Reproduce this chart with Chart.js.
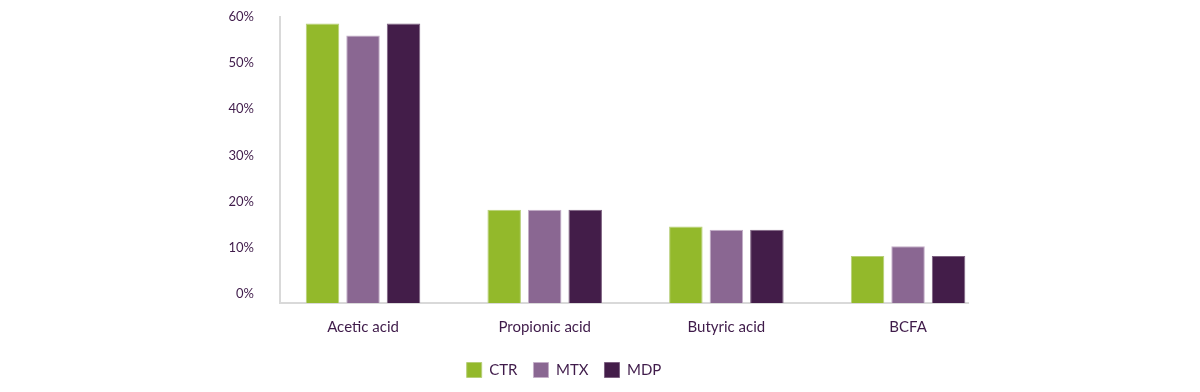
<!DOCTYPE html>
<html>
<head>
<meta charset="utf-8">
<script src="https://cdn.jsdelivr.net/npm/chart.js@4.4.1/dist/chart.umd.min.js"></script>
<style>
  html, body { margin: 0; padding: 0; background: #ffffff; }
  #wrap { width: 1200px; height: 392px; position: relative; }
</style>
</head>
<body>
<div id="wrap"><canvas id="c" width="1200" height="392"></canvas></div>
<script>
const categories = ['Acetic acid', 'Propionic acid', 'Butyric acid', 'BCFA'];
const seriesNames = ['CTR', 'MTX', 'MDP'];
const ctrValues = [58.6, 18.2, 14.6, 8.2];
const mtxValues = [56.0, 18.2, 13.9, 10.3];
const mdpValues = [58.6, 18.2, 13.9, 8.2];
const yTickValues = [0, 10, 20, 30, 40, 50, 60];

const textColor = '#3f1b4a';
const fontFamily = "Lato, 'Open Sans', sans-serif";
const yMin = -2, yMax = 60;

function pts(vals) { return vals.map((v, i) => ({ x: i, y: v })); }

const ds = (label, vals, color, edge) => ({
  label, data: pts(vals), backgroundColor: color, borderColor: edge, borderWidth: 1,
  base: yMin, categoryPercentage: 0.669, barPercentage: 0.827
});

new Chart(document.getElementById('c'), {
  type: 'bar',
  data: {
    datasets: [
      ds(seriesNames[0], ctrValues, '#93b92b', '#b7cf78'),
      ds(seriesNames[1], mtxValues, '#8a6792', '#c4aec8'),
      ds(seriesNames[2], mdpValues, '#431d49', '#7d6181')
    ]
  },
  options: {
    responsive: false,
    maintainAspectRatio: false,
    animation: false,
    layout: { padding: { left: 160, right: 232, top: 17, bottom: 4.5 } },
    plugins: {
      tooltip: { enabled: false },
      legend: {
        position: 'bottom',
        labels: {
          boxWidth: 15, boxHeight: 15, padding: 16,
          color: textColor, font: { family: fontFamily, size: 15 }
        }
      }
    },
    scales: {
      x: {
        type: 'linear',
        offset: false,
        min: -0.457, max: 3.330,
        afterBuildTicks: s => { s.ticks = categories.map((c, i) => ({ value: i })); },
        afterFit: s => { s.height = 43.5; },
        grid: { display: false, drawTicks: false, offset: false },
        border: { display: true, color: '#d9d9d9', width: 2 },
        ticks: {
          padding: 15, color: textColor, font: { family: fontFamily, size: 15 },
          maxRotation: 0, autoSkip: false,
          callback: v => categories[v] !== undefined ? categories[v] : ''
        }
      },
      y: {
        min: yMin, max: yMax,
        afterBuildTicks: s => { s.ticks = yTickValues.map(v => ({ value: v })); },
        afterFit: s => { s.width = 120; },
        grid: { display: true, drawOnChartArea: false, drawTicks: true, tickLength: 24, color: 'rgba(0,0,0,0)' },
        border: { display: true, color: '#d9d9d9', width: 2 },
        ticks: {
          padding: 2, color: textColor, font: { family: fontFamily, size: 13 },
          callback: v => v + '%'
        }
      }
    }
  }
});
</script>
</body>
</html>
